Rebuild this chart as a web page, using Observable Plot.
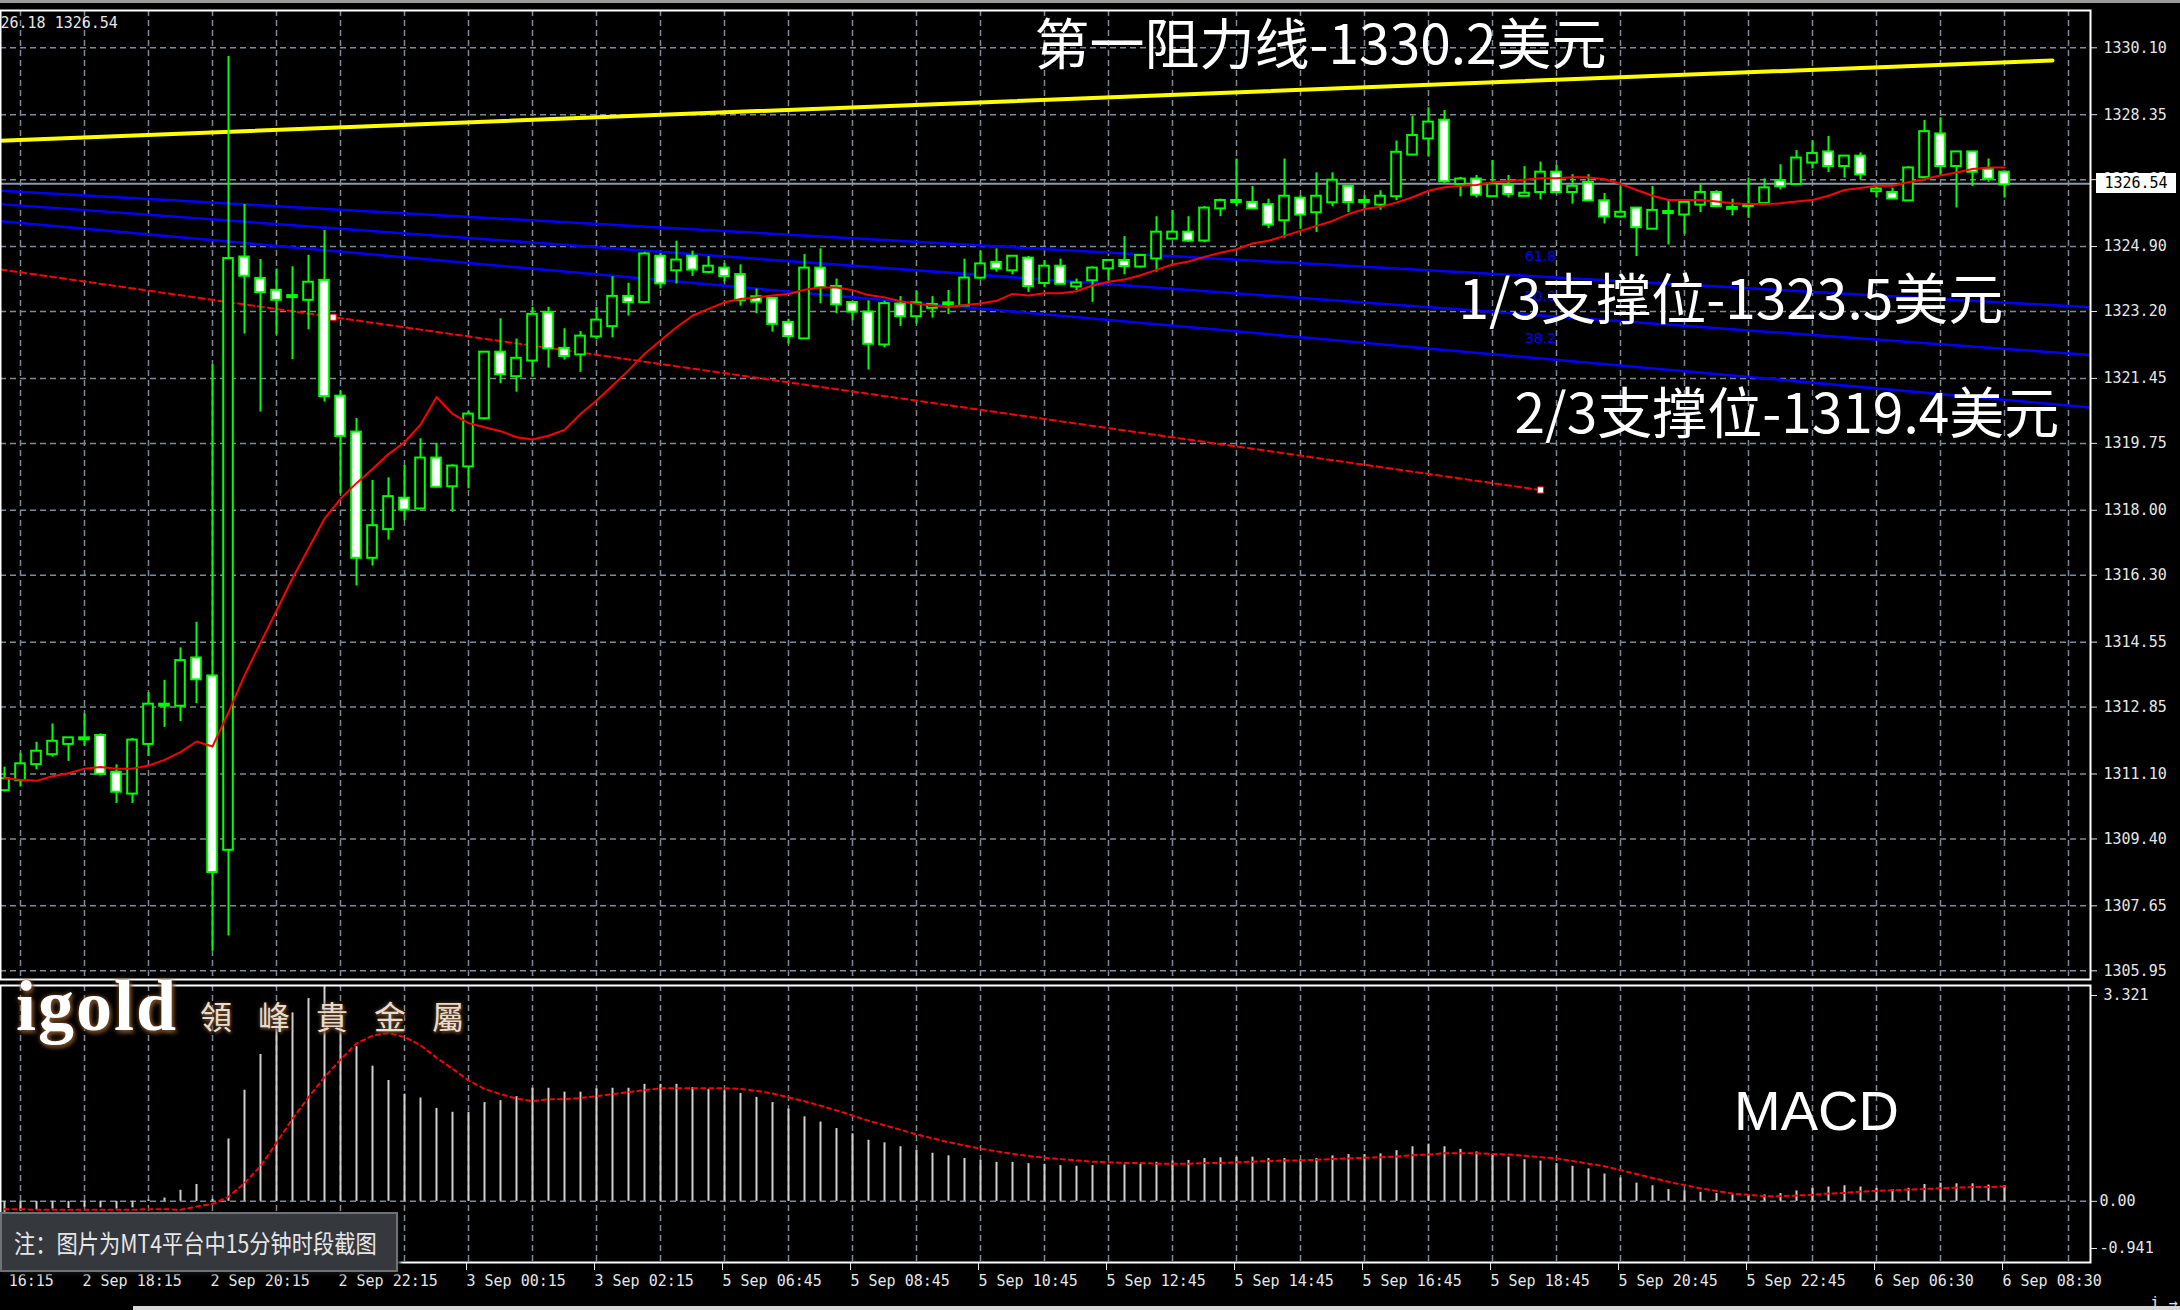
<!DOCTYPE html>
<html>
<head>
<meta charset="utf-8">
<script src="https://cdn.jsdelivr.net/npm/d3@7"></script>
<script src="https://cdn.jsdelivr.net/npm/@observablehq/plot@0.6"></script>
<style>
html, body { margin: 0; padding: 0; background: #000; }
#root { position: relative; width: 2180px; height: 1310px; overflow: hidden; background: #000; }
#topstrip { position: absolute; left: 0; top: 0; width: 2180px; height: 3px; background: #9a9a9a; }
#botstrip { position: absolute; left: 133px; top: 1306px; width: 2047px; height: 4px; background: #d8d8d8; }
#main { position: absolute; left: 0; top: 0; }
#macd { position: absolute; left: 0; top: 982px; }
#pricebox { position: absolute; left: 2096px; width: 80px; height: 20px; background: #fff; color: #000;
  font: 15px "DejaVu Sans Mono", monospace; line-height: 20px; text-align: center; }
#logo { position: absolute; left: 16px; top: 970px; font: bold 72px "Liberation Serif", serif; line-height: 72px;
  color: #fff; letter-spacing: 2px; text-shadow: 0 0 5px #8a5a2b, 2px 3px 4px #6b4423; }
#logocn { position: absolute; left: 200px; top: 997px; font: 32px "Noto Sans CJK TC", sans-serif; line-height: 36px;
  color: #e6ddd2; letter-spacing: 26px; text-shadow: 0 0 4px #7a4f2a, 1px 2px 3px #5a3a1e; }
#note { position: absolute; left: 0; top: 1212px; width: 398px; height: 60px; background: #35383d;
  border: 2px solid #6e7278; box-sizing: border-box; box-shadow: 2px 2px 4px #111; }
#note span { position: absolute; left: 12px; top: 12px; font: 25px "Noto Sans CJK SC", sans-serif; line-height: 32px;
  color: #e6e6e6; transform: scaleX(0.85); transform-origin: left center; white-space: nowrap; }
</style>
</head>
<body>
<div id="root">
  <div id="main"></div>
  <div id="macd"></div>
  <div id="topstrip"></div>
  <div id="botstrip"></div>
  <div id="logo">igold</div>
  <div id="logocn">領峰貴金屬</div>
  <div id="note"><span>注：图片为MT4平台中15分钟时段截图</span></div>
</div>
<script>
// ---------- data (15-minute XAUUSD candles) ----------
const open = [1310.69,1310.95,1311.37,1311.63,1311.90,1312.02,1312.08,1311.12,1310.60,1311.90,1312.90,1312.90,1314.11,1313.64,1309.13,1324.60,1324.04,1323.73,1323.59,1323.52,1323.99,1320.96,1320.02,1316.77,1317.52,1318.29,1318.06,1319.34,1318.64,1319.16,1320.42,1322.11,1321.52,1321.93,1323.15,1322.21,1322.09,1322.56,1322.83,1323.57,1323.46,1324.62,1324.29,1324.62,1324.25,1324.31,1324.14,1323.56,1323.52,1322.89,1322.51,1324.31,1323.83,1323.41,1323.16,1322.35,1323.37,1323.09,1323.31,1323.40,1323.37,1324.10,1324.46,1324.29,1324.57,1323.96,1324.36,1323.87,1324.03,1324.34,1324.51,1324.39,1324.60,1325.12,1325.25,1325.07,1325.91,1326.08,1326.03,1325.97,1325.60,1326.14,1325.81,1326.07,1326.45,1326.08,1326.01,1326.23,1327.32,1327.74,1328.18,1326.55,1326.64,1326.23,1326.47,1326.24,1326.34,1326.82,1326.34,1326.55,1326.07,1325.70,1325.88,1325.38,1325.79,1325.75,1326.01,1326.29,1325.90,1325.97,1326.05,1326.60,1326.55,1327.11,1327.35,1327.02,1327.24,1326.36,1326.29,1326.12,1326.73,1327.82,1327.02,1327.35,1326.89,1326.82];
const high = [1311.28,1311.64,1311.93,1312.41,1312.02,1312.67,1312.15,1311.34,1312.03,1313.23,1313.55,1314.40,1315.07,1321.81,1329.87,1326.00,1324.56,1324.31,1324.37,1324.67,1325.32,1321.12,1320.40,1318.78,1318.85,1319.17,1319.87,1319.75,1319.19,1320.59,1322.12,1323.01,1322.48,1323.31,1323.31,1322.75,1322.68,1323.31,1324.11,1323.94,1324.75,1324.71,1325.04,1324.78,1324.64,1324.46,1324.42,1323.79,1323.57,1323.00,1324.69,1324.84,1324.05,1323.44,1323.48,1323.47,1323.59,1323.73,1323.59,1323.75,1324.57,1324.78,1324.84,1324.62,1324.64,1324.53,1324.57,1324.05,1324.37,1324.53,1325.16,1324.69,1325.68,1325.84,1325.68,1325.95,1326.14,1327.19,1326.47,1326.14,1327.19,1326.23,1326.83,1326.83,1326.49,1326.23,1326.36,1327.66,1328.31,1328.53,1328.46,1326.71,1326.76,1327.15,1326.76,1326.99,1327.11,1327.02,1326.78,1326.78,1326.29,1326.47,1325.90,1326.47,1326.12,1326.05,1326.52,1326.36,1326.14,1326.69,1326.67,1327.04,1327.41,1327.66,1327.78,1327.24,1327.35,1326.47,1326.43,1326.99,1328.20,1328.27,1327.37,1327.39,1327.19,1326.84];
const low = [1310.63,1310.76,1311.21,1311.54,1311.43,1311.83,1311.05,1310.33,1310.33,1311.56,1312.32,1312.47,1312.94,1306.47,1306.86,1322.61,1320.57,1322.59,1321.94,1322.72,1320.83,1318.43,1316.02,1316.54,1317.22,1317.73,1318.06,1318.59,1317.95,1318.56,1320.36,1321.31,1321.09,1321.48,1321.72,1321.93,1321.61,1322.46,1322.51,1323.08,1323.40,1323.79,1323.92,1324.12,1324.18,1323.97,1323.34,1323.14,1322.66,1322.35,1322.51,1323.40,1323.14,1322.96,1321.67,1322.25,1322.81,1322.87,1323.03,1323.12,1323.37,1324.03,1324.23,1324.16,1323.70,1323.83,1323.90,1323.75,1323.44,1324.01,1324.16,1324.34,1324.23,1325.12,1325.01,1325.00,1325.68,1325.94,1325.91,1325.37,1325.12,1325.35,1325.27,1325.94,1325.79,1325.88,1325.85,1326.10,1327.28,1327.24,1326.54,1326.20,1326.17,1326.21,1326.17,1326.22,1326.12,1326.27,1326.01,1326.08,1325.49,1325.64,1324.64,1325.38,1324.94,1325.22,1325.79,1325.94,1325.70,1325.64,1326.05,1326.38,1326.54,1326.93,1326.84,1326.69,1326.64,1326.17,1326.14,1326.12,1326.73,1326.76,1325.91,1326.47,1326.58,1326.17];
const close = [1310.95,1311.34,1311.67,1311.93,1312.02,1312.02,1311.12,1310.65,1311.96,1312.90,1312.90,1314.04,1313.59,1308.55,1324.56,1324.15,1323.72,1323.52,1323.59,1323.94,1321.00,1319.96,1316.77,1317.57,1318.33,1318.03,1319.34,1318.63,1319.13,1320.49,1322.11,1321.57,1321.95,1323.10,1322.25,1322.05,1322.53,1322.95,1323.57,1323.46,1324.68,1323.95,1324.52,1324.31,1324.36,1324.14,1323.51,1323.47,1322.89,1322.57,1324.31,1323.85,1323.40,1323.21,1322.37,1323.38,1323.09,1323.40,1323.36,1323.40,1324.05,1324.42,1324.34,1324.62,1323.88,1324.36,1323.94,1323.92,1324.31,1324.51,1324.40,1324.64,1325.25,1325.25,1325.07,1325.88,1326.08,1326.08,1325.91,1325.49,1326.19,1325.75,1326.19,1326.61,1326.08,1326.08,1326.19,1327.34,1327.78,1328.13,1326.62,1326.64,1326.27,1326.51,1326.29,1326.27,1326.82,1326.34,1326.45,1326.12,1325.70,1325.77,1325.42,1325.82,1325.79,1326.03,1326.29,1325.97,1325.90,1325.97,1326.41,1326.49,1327.19,1327.31,1327.02,1327.24,1326.80,1326.38,1326.17,1326.93,1327.88,1327.02,1327.35,1326.87,1326.69,1326.54];
// red moving average
const movingAvg = [1310.99,1310.95,1310.92,1311.04,1311.12,1311.24,1311.28,1311.24,1311.24,1311.32,1311.47,1311.67,1311.95,1311.82,1312.71,1313.68,1314.53,1315.37,1316.22,1317.00,1317.78,1318.30,1318.71,1319.08,1319.47,1319.78,1320.24,1320.96,1320.52,1320.28,1320.17,1320.07,1319.91,1319.85,1319.95,1320.10,1320.52,1320.87,1321.26,1321.66,1322.09,1322.44,1322.79,1323.09,1323.27,1323.44,1323.53,1323.57,1323.62,1323.66,1323.77,1323.83,1323.83,1323.76,1323.63,1323.57,1323.47,1323.40,1323.36,1323.31,1323.37,1323.41,1323.48,1323.66,1323.62,1323.68,1323.68,1323.73,1323.88,1323.98,1324.04,1324.15,1324.29,1324.43,1324.51,1324.63,1324.74,1324.83,1324.98,1325.05,1325.18,1325.31,1325.44,1325.57,1325.75,1325.88,1325.94,1326.05,1326.19,1326.36,1326.45,1326.49,1326.51,1326.58,1326.61,1326.65,1326.69,1326.69,1326.71,1326.71,1326.66,1326.54,1326.38,1326.23,1326.12,1326.12,1326.12,1326.08,1326.03,1326.01,1326.01,1326.03,1326.08,1326.12,1326.23,1326.38,1326.43,1326.49,1326.49,1326.58,1326.67,1326.76,1326.84,1326.93,1326.97,1326.97];
// MACD histogram and signal
const macdHist = [-0.18,-0.15,-0.13,-0.12,-0.11,-0.09,-0.10,-0.12,-0.10,0.02,0.05,0.17,0.26,0.03,
  0.96,1.71,2.26,2.65,2.90,3.12,3.32,2.95,2.38,2.08,1.86,1.65,1.59,1.43,1.37,1.37,
  1.52,1.55,1.61,1.74,1.74,1.68,1.68,1.73,1.74,1.74,1.80,1.80,1.80,1.75,
  1.72,1.70,1.66,1.60,1.52,1.42,1.30,1.22,1.12,1.04,0.94,0.90,0.84,0.78,0.74,0.70,0.66,0.63,0.60,0.60,
  0.58,0.57,0.55,0.54,0.55,0.56,0.56,0.57,0.60,0.62,0.63,0.66,0.67,0.68,0.68,0.66,0.66,0.64,0.66,0.70,
  0.72,0.72,0.73,0.78,0.84,0.88,0.84,0.80,0.76,0.72,0.68,0.64,0.62,0.58,0.54,0.50,0.42,0.36,0.28,0.24,
  0.18,0.16,0.14,0.12,0.10,0.09,0.10,0.12,0.16,0.20,0.22,0.24,0.22,0.20,0.18,0.20,0.26,0.28,0.27,0.27,0.25,0.24];
const macdSignal = [-0.12,-0.12,-0.13,-0.13,-0.13,-0.13,-0.13,-0.13,-0.13,-0.12,-0.12,-0.13,-0.08,-0.04,
  0.07,0.28,0.54,0.90,1.27,1.60,1.91,2.18,2.43,2.55,2.59,2.53,2.40,2.21,2.04,1.86,
  1.73,1.65,1.58,1.54,1.57,1.57,1.59,1.62,1.65,1.68,1.71,1.74,1.74,1.74,
  1.74,1.74,1.73,1.70,1.66,1.60,1.54,1.47,1.40,1.32,1.24,1.17,1.10,1.03,0.97,0.91,0.86,0.81,0.77,0.73,
  0.70,0.67,0.65,0.63,0.61,0.60,0.59,0.59,0.58,0.58,0.58,0.59,0.59,0.60,0.61,0.62,0.63,0.63,0.64,0.65,
  0.66,0.67,0.68,0.69,0.71,0.72,0.74,0.74,0.74,0.73,0.72,0.70,0.68,0.66,0.62,0.58,0.54,0.48,0.42,0.36,
  0.30,0.25,0.20,0.16,0.12,0.10,0.08,0.08,0.09,0.10,0.12,0.13,0.15,0.16,0.17,0.18,0.19,0.20,0.21,0.22,0.22,0.23];

// axes
const priceTicks = [1330.10,1328.35,1326.65,1324.90,1323.20,1321.45,1319.75,1318.00,1316.30,1314.55,1312.85,1311.10,1309.40,1307.65,1305.95];
const xTickIdx = [-3,5,13,21,29,37,45,53,61,69,77,85,93,101,109,117,125];
const xTickLabels = ["2 Sep 16:15","2 Sep 18:15","2 Sep 20:15","2 Sep 22:15","3 Sep 00:15","3 Sep 02:15","5 Sep 06:45","5 Sep 08:45","5 Sep 10:45","5 Sep 12:45","5 Sep 14:45","5 Sep 16:45","5 Sep 18:45","5 Sep 20:45","5 Sep 22:45","6 Sep 06:30","6 Sep 08:30"];
const gridIdx = d3.range(1, 131, 4);
const lastPrice = 1326.54;
const infoText = "26.18 1326.54";

// drawn objects (bar index, price)
const resistIdx = [-0.25, 128];
const resistPrice = [1327.67, 1329.77];
const fibIdx = [-0.25, 130.375];
const fibA = [1326.36, 1323.31];
const fibB = [1326.01, 1322.06];
const fibC = [1325.56, 1320.69];
const fibLabelText = ["61.8", "50.0", "38.2"];
const fibLabelIdx = [96, 96, 96];
const fibLabelPrice = [1324.64, 1323.58, 1322.49];
const trendIdx = [-0.25, 96];
const trendPrice = [1324.30, 1318.53];
const trendAnchorIdx = [20.54, 96];
const trendAnchorPrice = [1323.05, 1318.53];
const noteText = ["第一阻力线-1330.2美元", "1/3支撑位-1323.5美元", "2/3支撑位-1319.4美元"];
const noteIdx = [82.25, 107.9, 111.4];
const notePrice = [1330.13, 1323.46, 1320.48];

// ---------- build ----------
const candles = open.map((o, i) => ({i, o, h: high[i], l: low[i], c: close[i]}));
const maData = movingAvg.map((v, i) => ({i, v}));
const macdData = macdHist.map((h, i) => ({i, h, s: macdSignal[i]}));
const pair = (xs, ys) => xs.map((x, k) => ({i: x, p: ys[k]}));
const labelMap = new Map(xTickIdx.map((d, k) => [d, xTickLabels[k]]));

const W = 2180;
const xDomain = [-0.25, 130.375];
const gridStyle = {stroke: "#7d8a97", strokeOpacity: 1, strokeWidth: 1.5, strokeDasharray: "6,4"};
const GREEN = "#00ff00";

const main = Plot.plot({
  width: W, height: 982,
  marginTop: 10, marginBottom: 3, marginLeft: 0, marginRight: 90,
  style: {background: "#000", color: "#e6e6e6", fontFamily: "DejaVu Sans Mono, monospace", fontSize: "15px"},
  x: {domain: xDomain, axis: null},
  y: {domain: [1305.723, 1331.076], axis: null},
  marks: [
    Plot.gridX(gridIdx, gridStyle),
    Plot.gridY(priceTicks, gridStyle),
    Plot.ruleY([lastPrice], {stroke: "#8c98a6", strokeWidth: 2}),
    Plot.line(pair(resistIdx, resistPrice), {x: "i", y: "p", stroke: "#ffff00", strokeWidth: 4, clip: true}),
    Plot.line(pair(fibIdx, fibA), {x: "i", y: "p", stroke: "#0000ff", strokeWidth: 2.5, clip: true}),
    Plot.line(pair(fibIdx, fibB), {x: "i", y: "p", stroke: "#0000ff", strokeWidth: 2.5, clip: true}),
    Plot.line(pair(fibIdx, fibC), {x: "i", y: "p", stroke: "#0000ff", strokeWidth: 2.5, clip: true}),
    Plot.text(fibLabelText, {x: (d, k) => fibLabelIdx[k], y: (d, k) => fibLabelPrice[k], text: d => d,
      fill: "#0000ff", fontSize: 14, fontFamily: "DejaVu Sans"}),
    Plot.line(pair(trendIdx, trendPrice), {x: "i", y: "p", stroke: "#ff0000", strokeWidth: 2, strokeDasharray: "6,4", clip: true}),
    Plot.ruleX(candles, {x: "i", y1: "l", y2: "h", stroke: GREEN, strokeWidth: 2}),
    Plot.rect(candles, {
      x1: d => d.i - 0.3, x2: d => d.i + 0.3,
      y1: d => Math.min(d.o, d.c), y2: d => Math.max(d.o, d.c),
      insetTop: -1, insetBottom: -1,
      fill: d => d.c < d.o ? "#ffffff" : "#000000", stroke: GREEN, strokeWidth: 2
    }),
    Plot.line(maData, {x: "i", y: "v", stroke: "#ff0000", strokeWidth: 2}),
    Plot.dot(pair(trendAnchorIdx, trendAnchorPrice), {x: "i", y: "p", symbol: "square", r: 3.5, fill: "#ffffff", stroke: "#ff0000", strokeWidth: 1}),
    Plot.text(noteText, {x: (d, k) => noteIdx[k], y: (d, k) => notePrice[k], text: d => d,
      fill: "#ffffff", fontSize: 55, fontFamily: "Noto Sans CJK SC"}),
    Plot.text([infoText], {frameAnchor: "top-left", textAnchor: "start", lineAnchor: "top", dy: 7, fill: "#e6e6e6", fontSize: 15}),
    Plot.axisY({anchor: "right", ticks: priceTicks, tickSize: 6, tickPadding: 7, tickFormat: d => d.toFixed(2), fill: "#e6e6e6"}),
    Plot.frame({stroke: "#ffffff", strokeWidth: 2})
  ]
});
document.getElementById("main").appendChild(main);

const macd = Plot.plot({
  width: W, height: 328,
  marginTop: 3, marginBottom: 48, marginLeft: 0, marginRight: 90,
  style: {background: "#000", color: "#e6e6e6", fontFamily: "DejaVu Sans Mono, monospace", fontSize: "15px"},
  x: {domain: xDomain, axis: null},
  y: {domain: [-0.941, 3.321], axis: null},
  marks: [
    Plot.gridX(gridIdx, gridStyle),
    Plot.gridY([0], gridStyle),
    Plot.ruleX(macdData, {x: "i", y1: 0, y2: "h", stroke: "#cfcfcf", strokeWidth: 2}),
    Plot.line(macdData, {x: "i", y: "s", stroke: "#ff0000", strokeWidth: 2, strokeDasharray: "4,4"}),
    Plot.text(["MACD"], {x: 113.25, y: 1.38, text: d => d, fill: "#ffffff", fontSize: 56, fontFamily: "Liberation Sans"}),
    Plot.axisX({anchor: "bottom", ticks: xTickIdx, tickSize: 8, tickPadding: 5, tickFormat: d => labelMap.get(d),
      textAnchor: "start", dx: -2, fill: "#e6e6e6"}),
    Plot.axisY({anchor: "right", ticks: [0], tickSize: 6, tickPadding: 3, tickFormat: d => d.toFixed(2), fill: "#e6e6e6"}),
    Plot.axisY({anchor: "right", ticks: [3.321], tickSize: 6, tickPadding: 7, dy: 10, tickFormat: d => d.toFixed(3), fill: "#e6e6e6"}),
    Plot.axisY({anchor: "right", ticks: [-0.941], tickSize: 6, tickPadding: 3, dy: -14, tickFormat: d => d.toFixed(3), fill: "#e6e6e6"}),
    Plot.frame({stroke: "#ffffff", strokeWidth: 2})
  ]
});
document.getElementById("macd").appendChild(macd);

// current price label on the right axis
const ys = main.scale("y");
const yPix = d3.scaleLinear(ys.domain, ys.range);
const box = document.createElement("div");
box.id = "pricebox";
box.textContent = lastPrice.toFixed(2);
box.style.top = (yPix(lastPrice) - 10) + "px";
document.getElementById("root").appendChild(box);
</script>
</body>
</html>
